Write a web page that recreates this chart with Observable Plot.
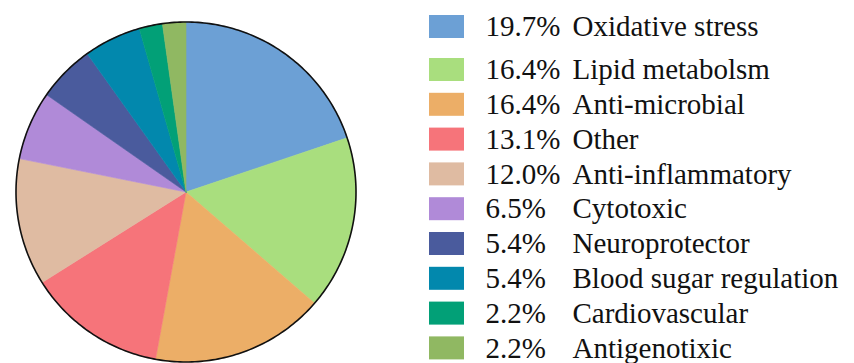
<!DOCTYPE html>
<html>
<head>
<meta charset="utf-8">
<script src="https://cdn.jsdelivr.net/npm/d3@7"></script>
<script src="https://cdn.jsdelivr.net/npm/@observablehq/plot@0.6"></script>
<style>
  html, body { margin: 0; padding: 0; background: #fff; }
</style>
</head>
<body>
<div id="chart"></div>
<script>
// ---- data ----
const categories = [
  "Oxidative stress", "Lipid metabolsm", "Anti-microbial", "Other",
  "Anti-inflammatory", "Cytotoxic", "Neuroprotector",
  "Blood sugar regulation", "Cardiovascular", "Antigenotixic"
];
const percents = [19.7, 16.4, 16.4, 13.1, 12.0, 6.5, 5.4, 5.4, 2.2, 2.2];
const colors = [
  "#6ca0d5", "#a9de7e", "#ecae67", "#f6747a", "#dfbba2",
  "#b08ad8", "#4a5b9d", "#0288ad", "#02a077", "#90b862"
];

// ---- layout ----
const W = 854, H = 363;
const cx = 185.5, cy = 191.5, R = 170;

const arcs = d3.pie().sort(null).value(d => d)(percents);
const slicePts = [];
arcs.forEach((a, i) => {
  const cat = categories[i];
  slicePts.push({cat, x: cx, y: cy});
  const n = Math.max(2, Math.ceil((a.endAngle - a.startAngle) / 0.01));
  for (let k = 0; k <= n; k++) {
    const t = a.startAngle + (a.endAngle - a.startAngle) * k / n;
    slicePts.push({cat, x: cx + R * Math.sin(t), y: cy - R * Math.cos(t)});
  }
  slicePts.push({cat, x: cx, y: cy});
});
const ring = d3.range(0, 361).map(k => {
  const t = k * Math.PI / 180;
  return {x: cx + R * Math.sin(t), y: cy - R * Math.cos(t)};
});

const rowY = i => i === 0 ? 26.5 : 69.5 + (i - 1) * 34.8;
const rows = categories.map((cat, i) => ({cat, pct: percents[i], y: rowY(i)}));

const font = "Liberation Serif, Times New Roman, serif";

const chart = Plot.plot({
  width: W, height: H,
  marginTop: 0, marginRight: 0, marginBottom: 0, marginLeft: 0,
  x: {type: "identity", axis: null},
  y: {type: "identity", axis: null},
  color: {domain: categories, range: colors},
  style: {background: "#fff"},
  marks: [
    Plot.line(slicePts, {x: "x", y: "y", z: "cat", fill: "cat", stroke: "cat", strokeWidth: 0.6, curve: "linear"}),
    Plot.line(ring, {x: "x", y: "y", stroke: "#111", strokeWidth: 1.6, fill: "none"}),
    Plot.rect(rows, {x1: 429, x2: 464, y1: d => d.y - 11.5, y2: d => d.y + 11.5, fill: "cat"}),
    Plot.text(rows, {x: 485, y: "y", text: d => d.pct.toFixed(1) + "%", textAnchor: "start", fontSize: 29, fontFamily: font, fill: "#111"}),
    Plot.text(rows, {x: 572, y: "y", text: "cat", textAnchor: "start", fontSize: 29, fontFamily: font, fill: "#111"})
  ]
});
document.getElementById("chart").appendChild(chart);
</script>
</body>
</html>
